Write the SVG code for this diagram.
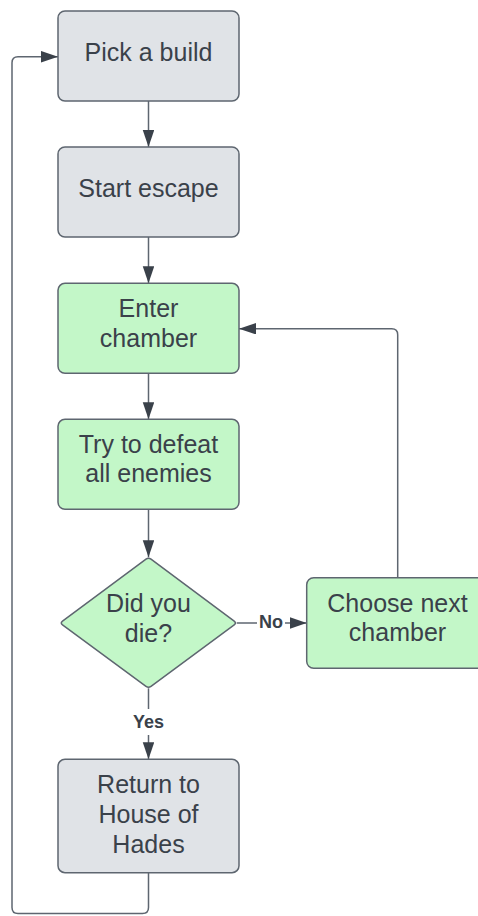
<svg xmlns="http://www.w3.org/2000/svg" width="478" height="916" viewBox="0 0 478 916">
<defs>
<marker id="arr" markerUnits="userSpaceOnUse" markerWidth="18" markerHeight="12" refX="17" refY="5.75" orient="auto">
<path d="M0,0 L17,5.75 L0,11.5 z" fill="#3a414a"/>
</marker>
</defs>
<style>
.gray{fill:#e0e3e7;stroke:#5e6670;stroke-width:1.5}
.green{fill:#c3f7c8;stroke:#5e6670;stroke-width:1.5}
.t{font-family:"Liberation Sans",Arial,sans-serif;font-size:25px;fill:#3a414a;text-anchor:middle}
.lbl{font-family:"Liberation Sans",Arial,sans-serif;font-size:18px;font-weight:bold;fill:#3a414a;text-anchor:middle}
.c{fill:none;stroke:#5e6670;stroke-width:1.5}
.a{marker-end:url(#arr)}
</style>
<rect width="478" height="916" fill="#ffffff"/>
<g id="connectors">
<path class="c a" d="M148.5,101 V147"/>
<path class="c a" d="M148.5,237 V283.3"/>
<path class="c a" d="M148.5,373.3 V419.3"/>
<path class="c a" d="M148.5,509.3 V557.3"/>
<path class="c" d="M148.5,688.3 V709"/>
<path class="c a" d="M148.5,735 V759.3"/>
<text class="lbl" x="148.5" y="728">Yes</text>
<path class="c" d="M236.7,623 H257"/>
<path class="c a" d="M285,623 H306.7"/>
<text class="lbl" x="271" y="628">No</text>
<path class="c a" d="M397.7,577.7 V334.7 Q397.7,328.7 391.7,328.7 H239"/>
<path class="c a" d="M148.5,872.7 V907.5 Q148.5,913.5 142.5,913.5 H18 Q12,913.5 12,907.5 V62.7 Q12,56.7 18,56.7 H58"/>
</g>
<g id="pick">
<rect class="gray" x="58" y="11" width="181" height="90" rx="7"/>
<text class="t" x="148.5" y="61">Pick a build</text>
</g>
<g id="start">
<rect class="gray" x="58" y="147" width="181" height="90" rx="7"/>
<text class="t" x="148.5" y="197">Start escape</text>
</g>
<g id="enter">
<rect class="green" x="58" y="283.3" width="181" height="90" rx="7"/>
<text class="t" x="148.5" y="317">Enter</text>
<text class="t" x="148.5" y="347">chamber</text>
</g>
<g id="defeat">
<rect class="green" x="58" y="419.3" width="181" height="90" rx="7"/>
<text class="t" x="148.5" y="452.5">Try to defeat</text>
<text class="t" x="148.5" y="482">all enemies</text>
</g>
<g id="die">
<path class="green" d="M62.5,621.2 L146,559.2 Q148.5,557.3 151,559.2 L234.2,621.2 Q236.7,623 234.2,624.8 L151,686.4 Q148.5,688.3 146,686.4 L62.5,624.8 Q60,623 62.5,621.2 Z"/>
<text class="t" x="148.5" y="612">Did you</text>
<text class="t" x="148.5" y="642">die?</text>
</g>
<g id="next">
<rect class="green" x="306.7" y="577.7" width="181" height="90.6" rx="7"/>
<text class="t" x="397.5" y="612">Choose next</text>
<text class="t" x="397.5" y="641">chamber</text>
</g>
<g id="return">
<rect class="gray" x="58" y="759.3" width="181" height="113.4" rx="7"/>
<text class="t" x="148.5" y="793">Return to</text>
<text class="t" x="148.5" y="823">House of</text>
<text class="t" x="148.5" y="853">Hades</text>
</g>
</svg>
